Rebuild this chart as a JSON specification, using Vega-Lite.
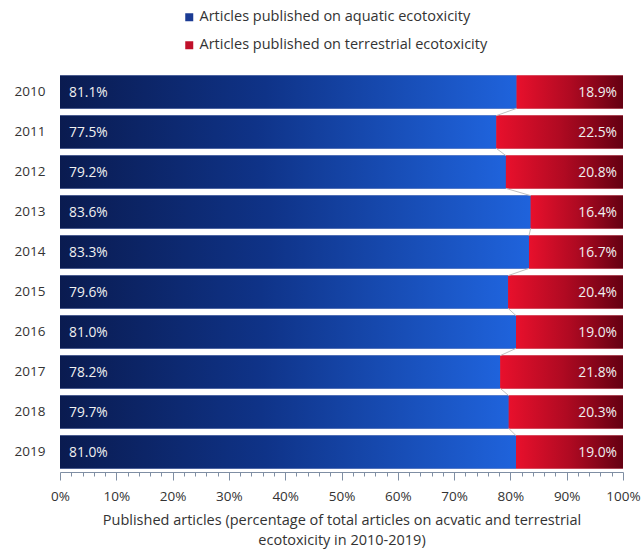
{
  "$schema": "https://vega.github.io/schema/vega-lite/v6.json",
  "width": 563,
  "height": 400,
  "autosize": "none",
  "padding": {"left": 60, "top": 72, "right": 19, "bottom": 78},
  "background": "white",
  "config": {
    "view": {"stroke": null},
    "font": "Open Sans",
    "text": {"font": "Open Sans"}
  },
  "data": {
    "values": [
      {"year": "2010", "aquatic": 0.811, "terrestrial": 0.189},
      {"year": "2011", "aquatic": 0.775, "terrestrial": 0.225},
      {"year": "2012", "aquatic": 0.792, "terrestrial": 0.208},
      {"year": "2013", "aquatic": 0.836, "terrestrial": 0.164},
      {"year": "2014", "aquatic": 0.833, "terrestrial": 0.167},
      {"year": "2015", "aquatic": 0.796, "terrestrial": 0.204},
      {"year": "2016", "aquatic": 0.810, "terrestrial": 0.190},
      {"year": "2017", "aquatic": 0.782, "terrestrial": 0.218},
      {"year": "2018", "aquatic": 0.797, "terrestrial": 0.203},
      {"year": "2019", "aquatic": 0.810, "terrestrial": 0.190}
    ]
  },
  "resolve": {"axis": {"x": "independent"}},
  "encoding": {
    "y": {
      "field": "year",
      "type": "nominal",
      "sort": null,
      "scale": {"paddingInner": 0.18, "paddingOuter": 0.09},
      "axis": {
        "title": null,
        "domain": false,
        "ticks": false,
        "labelPadding": 15,
        "labelFontSize": 13.5,
        "labelColor": "#333333",
        "labelFont": "Open Sans"
      }
    }
  },
  "layer": [
    {
      "mark": {"type": "bar"},
      "encoding": {
        "x": {
          "field": "aquatic",
          "type": "quantitative",
          "scale": {"domain": [0, 1], "nice": false},
          "axis": {
            "orient": "bottom",
            "values": [0, 0.1, 0.2, 0.3, 0.4, 0.5, 0.6, 0.7, 0.8, 0.9, 1],
            "format": ".0%",
            "tickSize": 8,
            "tickColor": "#7f8ea3",
            "domainColor": "#7f8ea3",
            "grid": false,
            "labelFontSize": 13.5,
            "labelColor": "#333333",
            "labelPadding": 9,
            "labelFont": "Open Sans",
            "labelOverlap": false,
            "labelFlush": false,
            "title": ["Published articles (percentage of total articles on acvatic and terrestrial", "ecotoxicity in 2010-2019)"],
            "titleFontSize": 14.5,
            "titleFontWeight": "normal",
            "titleColor": "#333333",
            "titleFont": "Open Sans",
            "titlePadding": 11,
            "titleLineHeight": 20
          }
        },
        "color": {
          "datum": "Articles published on aquatic ecotoxicity",
          "scale": {
            "domain": ["Articles published on aquatic ecotoxicity", "Articles published on terrestrial ecotoxicity"],
            "range": ["#1b3b94", "#c0102a"]
          },
          "legend": {
            "title": null,
            "orient": "none",
            "legendX": 122,
            "legendY": -62,
            "direction": "vertical",
            "symbolType": "square",
            "symbolSize": 64,
            "symbolStrokeWidth": 0,
            "labelFontSize": 14.5,
            "labelFont": "Open Sans",
            "labelColor": "#333333",
            "labelLimit": 500,
            "rowPadding": 13,
            "labelOffset": 3
          }
        }
      }
    },
    {
      "mark": {"type": "bar"},
      "encoding": {
        "x": {
          "field": "aquatic",
          "type": "quantitative",
          "axis": {
            "orient": "bottom",
            "values": [0.02,0.04,0.06,0.08,0.12,0.14,0.16,0.18,0.22,0.24,0.26,0.28,0.32,0.34,0.36,0.38,0.42,0.44,0.46,0.48,0.52,0.54,0.56,0.58,0.62,0.64,0.66,0.68,0.72,0.74,0.76,0.78,0.82,0.84,0.86,0.88,0.92,0.94,0.96,0.98],
            "labels": false,
            "domain": false,
            "grid": false,
            "tickSize": 4,
            "tickColor": "#7f8ea3",
            "title": null,
            "offset": 0
          }
        },
        "x2": {"datum": 1},
        "color": {"datum": "Articles published on terrestrial ecotoxicity"}
      }
    },
    {
      "mark": {
        "type": "bar",
        "fill": {
          "gradient": "linear", "x1": 0, "y1": 0, "x2": 1, "y2": 0,
          "stops": [
            {"offset": 0, "color": "#0a1b50"},
            {"offset": 0.45, "color": "#0f3388"},
            {"offset": 1, "color": "#1f63dc"}
          ]
        }
      },
      "encoding": {
        "x": {"field": "aquatic", "type": "quantitative", "axis": null}
      }
    },
    {
      "mark": {
        "type": "bar",
        "fill": {
          "gradient": "linear", "x1": 0, "y1": 0, "x2": 1, "y2": 0,
          "stops": [
            {"offset": 0, "color": "#e8102c"},
            {"offset": 0.5, "color": "#b00a22"},
            {"offset": 1, "color": "#650012"}
          ]
        }
      },
      "encoding": {
        "x": {"field": "aquatic", "type": "quantitative", "axis": null},
        "x2": {"datum": 1}
      }
    },
    {
      "transform": [
        {"window": [{"op": "lead", "field": "aquatic", "as": "nextAquatic"}, {"op": "lead", "field": "year", "as": "nextYear"}], "sort": [{"field": "year"}]},
        {"filter": "datum.nextYear != null"}
      ],
      "mark": {"type": "rule", "color": "#c0c0c0", "strokeWidth": 1},
      "encoding": {
        "x": {"field": "aquatic", "type": "quantitative", "axis": null},
        "x2": {"field": "nextAquatic"},
        "y": {"field": "year", "type": "nominal", "sort": null, "bandPosition": 1},
        "y2": {"field": "nextYear", "bandPosition": 0}
      }
    },
    {
      "mark": {"type": "text", "align": "left", "dx": 9, "dy": 1, "color": "#f0f0f0", "fontSize": 13.8, "font": "Open Sans"},
      "encoding": {
        "x": {"datum": 0, "type": "quantitative", "axis": null},
        "text": {"field": "aquatic", "type": "quantitative", "format": ".1%"}
      }
    },
    {
      "mark": {"type": "text", "align": "right", "dx": -6, "dy": 1, "color": "#f0f0f0", "fontSize": 13.8, "font": "Open Sans"},
      "encoding": {
        "x": {"datum": 1, "type": "quantitative", "axis": null},
        "text": {"field": "terrestrial", "type": "quantitative", "format": ".1%"}
      }
    }
  ]
}
